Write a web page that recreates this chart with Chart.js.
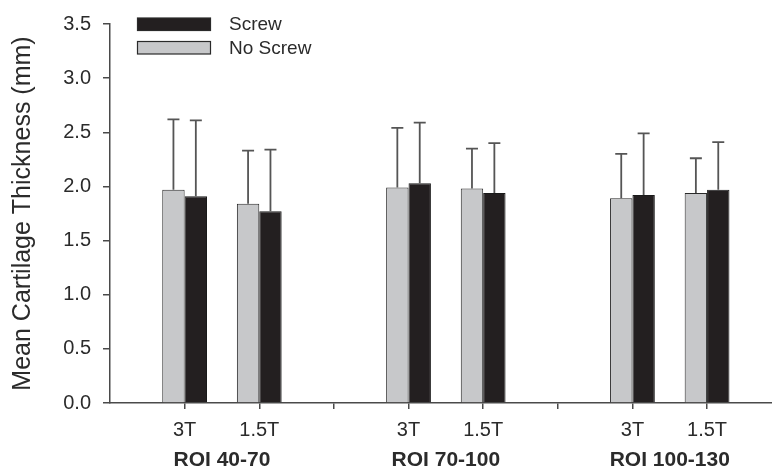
<!DOCTYPE html>
<html lang="en">
<head>
    <meta charset="UTF-8">
    <title>Mean Cartilage Thickness</title>
    <script src="https://cdn.jsdelivr.net/npm/chart.js"></script>
    <style>
        body { margin: 0; background: #fff; }
        #wrap { width: 772px; height: 474px; }
    </style>
</head>
<body>
    <div id="wrap"><canvas id="thicknessChart" width="772" height="474"></canvas></div>

    <script>
        // values (mm)
        const groups = ['ROI 40-70', 'ROI 70-100', 'ROI 100-130'];
        const fields = ['3T', '1.5T'];
        const noScrewMean = [1.97, 1.84, 1.99, 1.98, 1.89, 1.94];
        const noScrewSD = [0.65, 0.49, 0.55, 0.37, 0.41, 0.32];
        const screwMean = [1.91, 1.77, 2.03, 1.94, 1.92, 1.97];
        const screwSD = [0.70, 0.57, 0.56, 0.46, 0.57, 0.44];
        const yTicks = [0, 0.5, 1.0, 1.5, 2.0, 2.5, 3.0, 3.5];

        const fontFamily = "'Liberation Sans', Arial, Helvetica, sans-serif";
        const textColor = '#2b2b2b';
        const axisColor = '#4a4a4a';

        // each group takes 3 slots on the x axis: 3T, 1.5T, gap
        function slotOf(i) {
            return Math.floor(i / fields.length) * 3 + (i % fields.length) + 1;
        }

        function toPoints(means) {
            return means.map((v, i) => ({ x: slotOf(i), y: v }));
        }

        const errorBars = {
            id: 'errorBars',
            afterDatasetsDraw(chart) {
                const ctx = chart.ctx;
                const yScale = chart.scales.y;
                ctx.save();
                ctx.strokeStyle = '#555';
                ctx.lineWidth = 1.8;
                chart.data.datasets.forEach((ds, di) => {
                    const meta = chart.getDatasetMeta(di);
                    meta.data.forEach((bar, i) => {
                        const top = yScale.getPixelForValue(ds.data[i].y + ds.sd[i]);
                        ctx.beginPath();
                        ctx.moveTo(bar.x, bar.y);
                        ctx.lineTo(bar.x, top);
                        ctx.moveTo(bar.x - 6, top);
                        ctx.lineTo(bar.x + 6, top);
                        ctx.stroke();
                    });
                });
                ctx.restore();
            }
        };

        const boxLegend = {
            id: 'boxLegend',
            afterDraw(chart) {
                const ctx = chart.ctx;
                const items = chart.data.datasets.slice().reverse();
                ctx.save();
                ctx.font = '19px ' + fontFamily;
                ctx.textBaseline = 'middle';
                items.forEach((ds, k) => {
                    const y = 18 + k * 23.5;
                    ctx.fillStyle = ds.backgroundColor;
                    ctx.fillRect(137.5, y, 73, 12.5);
                    ctx.strokeStyle = '#2a2a2a';
                    ctx.lineWidth = 1.2;
                    ctx.strokeRect(137.5, y, 73, 12.5);
                    ctx.fillStyle = textColor;
                    ctx.fillText(ds.label, 229, y + 7);
                });
                ctx.restore();
            }
        };

        const ctx = document.getElementById('thicknessChart').getContext('2d');
        new Chart(ctx, {
            type: 'bar',
            data: {
                datasets: [{
                    label: 'No Screw',
                    data: toPoints(noScrewMean),
                    sd: noScrewSD,
                    backgroundColor: '#c7c8ca',
                    borderColor: '#2a2a2a',
                    borderWidth: 1
                }, {
                    label: 'Screw',
                    data: toPoints(screwMean),
                    sd: screwSD,
                    backgroundColor: '#231f20',
                    borderColor: '#1a1a1a',
                    borderWidth: 1
                }]
            },
            options: {
                responsive: false,
                animation: false,
                categoryPercentage: 0.6,
                barPercentage: 1.0,
                layout: { padding: { top: 17, right: 0, bottom: 0, left: 0 } },
                plugins: {
                    legend: { display: false },
                    tooltip: { enabled: false }
                },
                scales: {
                    x: {
                        type: 'linear',
                        min: 0,
                        max: 8.87,
                        offset: false,
                        weight: 0,
                        afterBuildTicks(scale) {
                            const t = [];
                            for (let v = 1; v <= groups.length * 3 - 1; v++) t.push({ value: v });
                            scale.ticks = t;
                        },
                        afterFit(scale) { scale.height = 40; },
                        border: { display: true, color: axisColor, width: 1.5 },
                        grid: { offset: false, drawOnChartArea: false, drawTicks: true, tickLength: 6, color: axisColor, lineWidth: 1.5 },
                        ticks: {
                            padding: 9,
                            color: textColor,
                            font: { family: fontFamily, size: 20 },
                            maxRotation: 0,
                            autoSkip: false,
                            callback: (v) => (v % 3 === 0 ? '' : fields[(v % 3) - 1])
                        }
                    },
                    x2: {
                        type: 'linear',
                        position: 'bottom',
                        min: 0,
                        max: 8.87,
                        offset: false,
                        weight: 1,
                        afterBuildTicks(scale) {
                            scale.ticks = groups.map((g, i) => ({ value: i * 3 + 1.5 }));
                        },
                        afterFit(scale) { scale.height = 31; },
                        border: { display: false },
                        grid: { display: false, offset: false, drawTicks: false },
                        ticks: {
                            padding: 5,
                            color: textColor,
                            font: { family: fontFamily, size: 21, weight: 'bold' },
                            maxRotation: 0,
                            autoSkip: false,
                            callback: (v, i) => groups[i]
                        }
                    },
                    y: {
                        min: 0,
                        max: 3.5,
                        afterBuildTicks(scale) {
                            scale.ticks = yTicks.map(v => ({ value: v }));
                        },
                        afterFit(scale) { scale.width = 110; },
                        border: { display: true, color: axisColor, width: 1.5 },
                        grid: { drawOnChartArea: false, drawTicks: true, tickLength: 7, color: axisColor, lineWidth: 1.5 },
                        ticks: {
                            padding: 12,
                            color: textColor,
                            font: { family: fontFamily, size: 20 },
                            callback: (v) => v.toFixed(1)
                        },
                        title: {
                            display: true,
                            text: 'Mean Cartilage Thickness (mm)',
                            color: textColor,
                            font: { family: fontFamily, size: 25 },
                            padding: { top: 8, bottom: 0 }
                        }
                    }
                }
            },
            plugins: [errorBars, boxLegend]
        });
    </script>
</body>
</html>
